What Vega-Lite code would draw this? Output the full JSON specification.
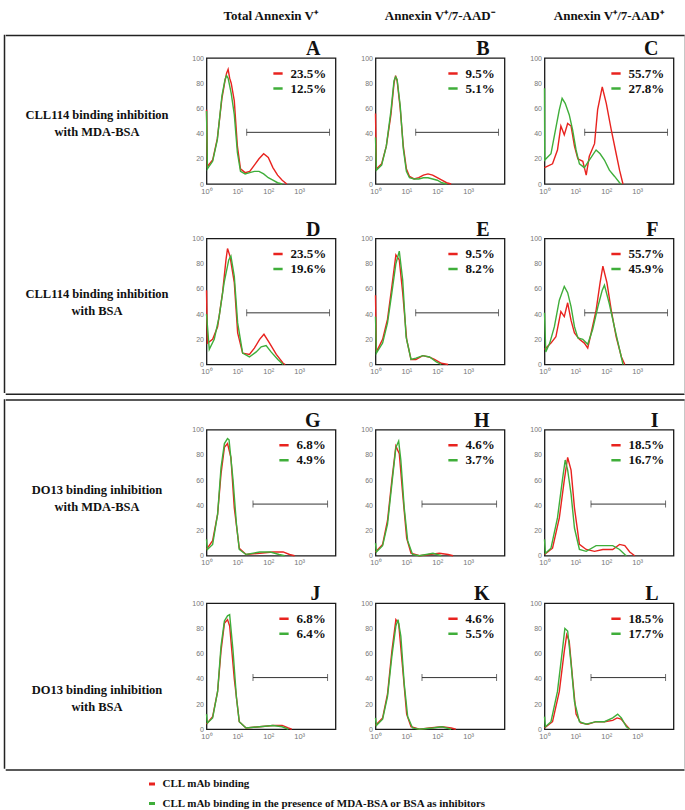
{
"$schema": "https://vega.github.io/schema/vega-lite/v6.json",
"padding": {"left": 1.5, "top": 1, "right": 0, "bottom": 0},
"datasets": {
"gate": [{"g":1,"x":20,"y":41},{"g":1,"x":9600,"y":41},{"g":2,"x":32,"y":41},{"g":2,"x":8300,"y":41}],
"h": [
{"p":"A","s":"r","x":1,"y":59},{"p":"A","s":"r","x":1.07,"y":14},{"p":"A","s":"r","x":1.58,"y":19},{"p":"A","s":"r","x":2.24,"y":36},{"p":"A","s":"r","x":3.16,"y":68},{"p":"A","s":"r","x":3.98,"y":82},{"p":"A","s":"r","x":4.47,"y":88},{"p":"A","s":"r","x":5.01,"y":91},{"p":"A","s":"r","x":5.62,"y":84},{"p":"A","s":"r","x":6.31,"y":80},{"p":"A","s":"r","x":7.94,"y":66},{"p":"A","s":"r","x":10,"y":30},{"p":"A","s":"r","x":12.6,"y":12},{"p":"A","s":"r","x":17.8,"y":9},{"p":"A","s":"r","x":25.1,"y":10},{"p":"A","s":"r","x":35.5,"y":15},{"p":"A","s":"r","x":50.1,"y":20},{"p":"A","s":"r","x":70.8,"y":24},{"p":"A","s":"r","x":100,"y":21},{"p":"A","s":"r","x":141,"y":13},{"p":"A","s":"r","x":200,"y":7},{"p":"A","s":"r","x":282,"y":3},{"p":"A","s":"r","x":398,"y":0},
{"p":"A","s":"g","x":1,"y":58},{"p":"A","s":"g","x":1.07,"y":12},{"p":"A","s":"g","x":1.58,"y":18},{"p":"A","s":"g","x":2.24,"y":35},{"p":"A","s":"g","x":3.16,"y":70},{"p":"A","s":"g","x":3.98,"y":83},{"p":"A","s":"g","x":4.47,"y":86},{"p":"A","s":"g","x":5.01,"y":84},{"p":"A","s":"g","x":6.31,"y":72},{"p":"A","s":"g","x":7.94,"y":55},{"p":"A","s":"g","x":10,"y":25},{"p":"A","s":"g","x":12.6,"y":10},{"p":"A","s":"g","x":17.8,"y":8},{"p":"A","s":"g","x":25.1,"y":9},{"p":"A","s":"g","x":35.5,"y":10},{"p":"A","s":"g","x":50.1,"y":10},{"p":"A","s":"g","x":70.8,"y":8},{"p":"A","s":"g","x":100,"y":5},{"p":"A","s":"g","x":141,"y":3},{"p":"A","s":"g","x":200,"y":1},{"p":"A","s":"g","x":282,"y":0},
{"p":"B","s":"r","x":1,"y":56},{"p":"B","s":"r","x":1.07,"y":12},{"p":"B","s":"r","x":1.58,"y":16},{"p":"B","s":"r","x":2.24,"y":30},{"p":"B","s":"r","x":3.16,"y":55},{"p":"B","s":"r","x":3.98,"y":80},{"p":"B","s":"r","x":4.47,"y":86},{"p":"B","s":"r","x":5.01,"y":82},{"p":"B","s":"r","x":6.31,"y":60},{"p":"B","s":"r","x":7.94,"y":30},{"p":"B","s":"r","x":10,"y":12},{"p":"B","s":"r","x":12.6,"y":6},{"p":"B","s":"r","x":17.8,"y":4},{"p":"B","s":"r","x":25.1,"y":5},{"p":"B","s":"r","x":35.5,"y":7},{"p":"B","s":"r","x":50.1,"y":8},{"p":"B","s":"r","x":70.8,"y":7},{"p":"B","s":"r","x":100,"y":5},{"p":"B","s":"r","x":141,"y":3},{"p":"B","s":"r","x":200,"y":1},{"p":"B","s":"r","x":282,"y":0},
{"p":"B","s":"g","x":1,"y":37},{"p":"B","s":"g","x":1.07,"y":11},{"p":"B","s":"g","x":1.58,"y":15},{"p":"B","s":"g","x":2.24,"y":30},{"p":"B","s":"g","x":3.16,"y":58},{"p":"B","s":"g","x":3.98,"y":82},{"p":"B","s":"g","x":4.47,"y":85},{"p":"B","s":"g","x":5.01,"y":83},{"p":"B","s":"g","x":6.31,"y":62},{"p":"B","s":"g","x":7.94,"y":28},{"p":"B","s":"g","x":10,"y":10},{"p":"B","s":"g","x":12.6,"y":5},{"p":"B","s":"g","x":17.8,"y":4},{"p":"B","s":"g","x":25.1,"y":4},{"p":"B","s":"g","x":35.5,"y":5},{"p":"B","s":"g","x":50.1,"y":5},{"p":"B","s":"g","x":70.8,"y":4},{"p":"B","s":"g","x":100,"y":3},{"p":"B","s":"g","x":141,"y":1},{"p":"B","s":"g","x":200,"y":0},
{"p":"C","s":"r","x":1,"y":13},{"p":"C","s":"r","x":1.82,"y":16},{"p":"C","s":"r","x":2.63,"y":27},{"p":"C","s":"r","x":3.39,"y":46},{"p":"C","s":"r","x":4.37,"y":39},{"p":"C","s":"r","x":5.62,"y":48},{"p":"C","s":"r","x":7.24,"y":46},{"p":"C","s":"r","x":9.33,"y":30},{"p":"C","s":"r","x":12,"y":20},{"p":"C","s":"r","x":17.4,"y":18},{"p":"C","s":"r","x":22.4,"y":7},{"p":"C","s":"r","x":28.2,"y":22},{"p":"C","s":"r","x":41.7,"y":32},{"p":"C","s":"r","x":52.5,"y":59},{"p":"C","s":"r","x":74.1,"y":77},{"p":"C","s":"r","x":100,"y":64},{"p":"C","s":"r","x":145,"y":43},{"p":"C","s":"r","x":209,"y":24},{"p":"C","s":"r","x":269,"y":11},{"p":"C","s":"r","x":347,"y":0},
{"p":"C","s":"g","x":1,"y":76},{"p":"C","s":"g","x":1.02,"y":19},{"p":"C","s":"g","x":1.62,"y":24},{"p":"C","s":"g","x":2.04,"y":37},{"p":"C","s":"g","x":3.02,"y":59},{"p":"C","s":"g","x":3.72,"y":68},{"p":"C","s":"g","x":4.68,"y":64},{"p":"C","s":"g","x":6.31,"y":55},{"p":"C","s":"g","x":8.13,"y":43},{"p":"C","s":"g","x":10.5,"y":27},{"p":"C","s":"g","x":13.5,"y":16},{"p":"C","s":"g","x":19.5,"y":13},{"p":"C","s":"g","x":28.2,"y":19},{"p":"C","s":"g","x":46.8,"y":27},{"p":"C","s":"g","x":63.1,"y":24},{"p":"C","s":"g","x":87.1,"y":19},{"p":"C","s":"g","x":126,"y":11},{"p":"C","s":"g","x":186,"y":6},{"p":"C","s":"g","x":269,"y":1},{"p":"C","s":"g","x":300,"y":0},
{"p":"D","s":"r","x":1,"y":59},{"p":"D","s":"r","x":1.07,"y":17},{"p":"D","s":"r","x":1.58,"y":20},{"p":"D","s":"r","x":2.29,"y":30},{"p":"D","s":"r","x":3.31,"y":57},{"p":"D","s":"r","x":4.27,"y":83},{"p":"D","s":"r","x":4.79,"y":92},{"p":"D","s":"r","x":5.75,"y":86},{"p":"D","s":"r","x":7.94,"y":65},{"p":"D","s":"r","x":10.2,"y":25},{"p":"D","s":"r","x":14.8,"y":9},{"p":"D","s":"r","x":24.5,"y":8},{"p":"D","s":"r","x":35.5,"y":13},{"p":"D","s":"r","x":52.5,"y":20},{"p":"D","s":"r","x":72.4,"y":24},{"p":"D","s":"r","x":110,"y":17},{"p":"D","s":"r","x":182,"y":8},{"p":"D","s":"r","x":302,"y":1},{"p":"D","s":"r","x":355,"y":0},
{"p":"D","s":"g","x":1,"y":40},{"p":"D","s":"g","x":1.23,"y":12},{"p":"D","s":"g","x":1.78,"y":20},{"p":"D","s":"g","x":2.57,"y":38},{"p":"D","s":"g","x":3.72,"y":65},{"p":"D","s":"g","x":5.25,"y":83},{"p":"D","s":"g","x":6.17,"y":86},{"p":"D","s":"g","x":7.94,"y":70},{"p":"D","s":"g","x":10.2,"y":33},{"p":"D","s":"g","x":14.8,"y":9},{"p":"D","s":"g","x":24.5,"y":6},{"p":"D","s":"g","x":40.7,"y":10},{"p":"D","s":"g","x":58.9,"y":14},{"p":"D","s":"g","x":85.1,"y":15},{"p":"D","s":"g","x":123,"y":10},{"p":"D","s":"g","x":204,"y":4},{"p":"D","s":"g","x":302,"y":0},
{"p":"E","s":"r","x":1,"y":55},{"p":"E","s":"r","x":1.07,"y":10},{"p":"E","s":"r","x":1.7,"y":20},{"p":"E","s":"r","x":2.45,"y":36},{"p":"E","s":"r","x":3.39,"y":62},{"p":"E","s":"r","x":4.57,"y":87},{"p":"E","s":"r","x":5.89,"y":83},{"p":"E","s":"r","x":7.59,"y":57},{"p":"E","s":"r","x":10.2,"y":20},{"p":"E","s":"r","x":14.1,"y":4},{"p":"E","s":"r","x":20.4,"y":4},{"p":"E","s":"r","x":33.9,"y":7},{"p":"E","s":"r","x":53.7,"y":6},{"p":"E","s":"r","x":81.3,"y":4},{"p":"E","s":"r","x":135,"y":1},{"p":"E","s":"r","x":224,"y":0},
{"p":"E","s":"g","x":1,"y":38},{"p":"E","s":"g","x":1.07,"y":9},{"p":"E","s":"g","x":1.7,"y":17},{"p":"E","s":"g","x":2.45,"y":33},{"p":"E","s":"g","x":3.39,"y":57},{"p":"E","s":"g","x":4.57,"y":80},{"p":"E","s":"g","x":5.89,"y":90},{"p":"E","s":"g","x":7.59,"y":67},{"p":"E","s":"g","x":9.77,"y":22},{"p":"E","s":"g","x":14.1,"y":4},{"p":"E","s":"g","x":20.4,"y":5},{"p":"E","s":"g","x":33.9,"y":7},{"p":"E","s":"g","x":56.2,"y":6},{"p":"E","s":"g","x":93.3,"y":2},{"p":"E","s":"g","x":135,"y":0},
{"p":"F","s":"r","x":1,"y":12},{"p":"F","s":"r","x":1.62,"y":17},{"p":"F","s":"r","x":2.34,"y":22},{"p":"F","s":"r","x":3.39,"y":42},{"p":"F","s":"r","x":4.37,"y":38},{"p":"F","s":"r","x":5.62,"y":49},{"p":"F","s":"r","x":7.24,"y":35},{"p":"F","s":"r","x":9.33,"y":25},{"p":"F","s":"r","x":13.5,"y":20},{"p":"F","s":"r","x":19.5,"y":17},{"p":"F","s":"r","x":25.1,"y":13},{"p":"F","s":"r","x":32.4,"y":25},{"p":"F","s":"r","x":46.8,"y":43},{"p":"F","s":"r","x":63.1,"y":65},{"p":"F","s":"r","x":77.6,"y":78},{"p":"F","s":"r","x":105,"y":65},{"p":"F","s":"r","x":145,"y":43},{"p":"F","s":"r","x":209,"y":22},{"p":"F","s":"r","x":309,"y":6},{"p":"F","s":"r","x":398,"y":0},
{"p":"F","s":"g","x":1,"y":41},{"p":"F","s":"g","x":1.1,"y":10},{"p":"F","s":"g","x":1.48,"y":17},{"p":"F","s":"g","x":2.09,"y":30},{"p":"F","s":"g","x":3.02,"y":51},{"p":"F","s":"g","x":4.37,"y":62},{"p":"F","s":"g","x":5.62,"y":57},{"p":"F","s":"g","x":7.24,"y":46},{"p":"F","s":"g","x":9.33,"y":30},{"p":"F","s":"g","x":12,"y":21},{"p":"F","s":"g","x":17.4,"y":20},{"p":"F","s":"g","x":25.1,"y":16},{"p":"F","s":"g","x":36.3,"y":28},{"p":"F","s":"g","x":53.7,"y":46},{"p":"F","s":"g","x":74.1,"y":59},{"p":"F","s":"g","x":87.1,"y":63},{"p":"F","s":"g","x":126,"y":48},{"p":"F","s":"g","x":182,"y":30},{"p":"F","s":"g","x":269,"y":12},{"p":"F","s":"g","x":347,"y":0},
{"p":"G","s":"r","x":1,"y":5},{"p":"G","s":"r","x":1.07,"y":6},{"p":"G","s":"r","x":1.58,"y":12},{"p":"G","s":"r","x":2.29,"y":33},{"p":"G","s":"r","x":2.95,"y":65},{"p":"G","s":"r","x":3.8,"y":86},{"p":"G","s":"r","x":4.79,"y":89},{"p":"G","s":"r","x":6.17,"y":78},{"p":"G","s":"r","x":7.94,"y":38},{"p":"G","s":"r","x":11.5,"y":6},{"p":"G","s":"r","x":19.1,"y":1},{"p":"G","s":"r","x":52.5,"y":2},{"p":"G","s":"r","x":141,"y":3},{"p":"G","s":"r","x":302,"y":3},{"p":"G","s":"r","x":490,"y":1},{"p":"G","s":"r","x":708,"y":0},
{"p":"G","s":"g","x":1,"y":13},{"p":"G","s":"g","x":1.07,"y":5},{"p":"G","s":"g","x":1.58,"y":9},{"p":"G","s":"g","x":2.29,"y":33},{"p":"G","s":"g","x":2.95,"y":70},{"p":"G","s":"g","x":3.8,"y":89},{"p":"G","s":"g","x":4.79,"y":93},{"p":"G","s":"g","x":5.37,"y":92},{"p":"G","s":"g","x":7.24,"y":60},{"p":"G","s":"g","x":9.33,"y":25},{"p":"G","s":"g","x":11.5,"y":5},{"p":"G","s":"g","x":19.1,"y":1},{"p":"G","s":"g","x":52.5,"y":3},{"p":"G","s":"g","x":117,"y":3},{"p":"G","s":"g","x":224,"y":1},{"p":"G","s":"g","x":339,"y":0},
{"p":"H","s":"r","x":1,"y":3},{"p":"H","s":"r","x":1.7,"y":9},{"p":"H","s":"r","x":2.45,"y":28},{"p":"H","s":"r","x":3.39,"y":60},{"p":"H","s":"r","x":4.57,"y":87},{"p":"H","s":"r","x":5.89,"y":81},{"p":"H","s":"r","x":7.59,"y":49},{"p":"H","s":"r","x":10.2,"y":14},{"p":"H","s":"r","x":14.1,"y":2},{"p":"H","s":"r","x":26.3,"y":0},{"p":"H","s":"r","x":56.2,"y":1},{"p":"H","s":"r","x":117,"y":2},{"p":"H","s":"r","x":224,"y":1},{"p":"H","s":"r","x":324,"y":0},
{"p":"H","s":"g","x":1,"y":10},{"p":"H","s":"g","x":1.07,"y":3},{"p":"H","s":"g","x":1.7,"y":8},{"p":"H","s":"g","x":2.45,"y":25},{"p":"H","s":"g","x":3.39,"y":57},{"p":"H","s":"g","x":4.57,"y":86},{"p":"H","s":"g","x":5.62,"y":91},{"p":"H","s":"g","x":6.61,"y":76},{"p":"H","s":"g","x":8.51,"y":38},{"p":"H","s":"g","x":11,"y":12},{"p":"H","s":"g","x":15.8,"y":1},{"p":"H","s":"g","x":26.3,"y":0},{"p":"H","s":"g","x":72.4,"y":2},{"p":"H","s":"g","x":135,"y":0},
{"p":"I","s":"r","x":1,"y":1},{"p":"I","s":"r","x":1.82,"y":6},{"p":"I","s":"r","x":3.02,"y":30},{"p":"I","s":"r","x":4.37,"y":60},{"p":"I","s":"r","x":5.62,"y":78},{"p":"I","s":"r","x":7.24,"y":68},{"p":"I","s":"r","x":9.33,"y":38},{"p":"I","s":"r","x":13.5,"y":9},{"p":"I","s":"r","x":22.4,"y":5},{"p":"I","s":"r","x":41.7,"y":3.5},{"p":"I","s":"r","x":77.6,"y":5},{"p":"I","s":"r","x":162,"y":5},{"p":"I","s":"r","x":269,"y":9},{"p":"I","s":"r","x":398,"y":8},{"p":"I","s":"r","x":575,"y":3},{"p":"I","s":"r","x":832,"y":0},
{"p":"I","s":"g","x":1,"y":13},{"p":"I","s":"g","x":1.07,"y":2},{"p":"I","s":"g","x":1.62,"y":6},{"p":"I","s":"g","x":2.63,"y":30},{"p":"I","s":"g","x":3.89,"y":62},{"p":"I","s":"g","x":4.68,"y":76},{"p":"I","s":"g","x":5.62,"y":68},{"p":"I","s":"g","x":7.24,"y":49},{"p":"I","s":"g","x":9.33,"y":22},{"p":"I","s":"g","x":13.5,"y":5},{"p":"I","s":"g","x":22.4,"y":3.5},{"p":"I","s":"g","x":46.8,"y":8},{"p":"I","s":"g","x":87.1,"y":8},{"p":"I","s":"g","x":162,"y":8},{"p":"I","s":"g","x":269,"y":5},{"p":"I","s":"g","x":398,"y":1},{"p":"I","s":"g","x":447,"y":0},
{"p":"J","s":"r","x":1,"y":4},{"p":"J","s":"r","x":1.07,"y":5},{"p":"J","s":"r","x":1.58,"y":10},{"p":"J","s":"r","x":2.29,"y":30},{"p":"J","s":"r","x":2.95,"y":62},{"p":"J","s":"r","x":3.8,"y":84},{"p":"J","s":"r","x":4.79,"y":87},{"p":"J","s":"r","x":5.62,"y":82},{"p":"J","s":"r","x":7.94,"y":40},{"p":"J","s":"r","x":11.5,"y":6},{"p":"J","s":"r","x":19.1,"y":1},{"p":"J","s":"r","x":52.5,"y":2},{"p":"J","s":"r","x":141,"y":3},{"p":"J","s":"r","x":282,"y":3},{"p":"J","s":"r","x":447,"y":1},{"p":"J","s":"r","x":575,"y":0},
{"p":"J","s":"g","x":1,"y":12},{"p":"J","s":"g","x":1.07,"y":5},{"p":"J","s":"g","x":1.58,"y":9},{"p":"J","s":"g","x":2.29,"y":30},{"p":"J","s":"g","x":2.95,"y":66},{"p":"J","s":"g","x":3.8,"y":86},{"p":"J","s":"g","x":4.79,"y":90},{"p":"J","s":"g","x":5.62,"y":91},{"p":"J","s":"g","x":7.24,"y":62},{"p":"J","s":"g","x":9.33,"y":25},{"p":"J","s":"g","x":11.5,"y":6},{"p":"J","s":"g","x":19.1,"y":1},{"p":"J","s":"g","x":52.5,"y":2},{"p":"J","s":"g","x":141,"y":3},{"p":"J","s":"g","x":282,"y":2},{"p":"J","s":"g","x":447,"y":0},
{"p":"K","s":"r","x":1,"y":3},{"p":"K","s":"r","x":1.7,"y":9},{"p":"K","s":"r","x":2.45,"y":28},{"p":"K","s":"r","x":3.39,"y":62},{"p":"K","s":"r","x":4.57,"y":87},{"p":"K","s":"r","x":5.62,"y":84},{"p":"K","s":"r","x":7.59,"y":48},{"p":"K","s":"r","x":10.2,"y":12},{"p":"K","s":"r","x":14.1,"y":2},{"p":"K","s":"r","x":26.3,"y":0},{"p":"K","s":"r","x":56.2,"y":1},{"p":"K","s":"r","x":141,"y":2},{"p":"K","s":"r","x":282,"y":1},{"p":"K","s":"r","x":398,"y":0},
{"p":"K","s":"g","x":1,"y":9},{"p":"K","s":"g","x":1.07,"y":3},{"p":"K","s":"g","x":1.7,"y":8},{"p":"K","s":"g","x":2.45,"y":26},{"p":"K","s":"g","x":3.39,"y":58},{"p":"K","s":"g","x":4.57,"y":82},{"p":"K","s":"g","x":5.37,"y":87},{"p":"K","s":"g","x":6.61,"y":74},{"p":"K","s":"g","x":8.51,"y":36},{"p":"K","s":"g","x":11,"y":10},{"p":"K","s":"g","x":15.8,"y":1},{"p":"K","s":"g","x":26.3,"y":0},{"p":"K","s":"g","x":72.4,"y":1},{"p":"K","s":"g","x":141,"y":2},{"p":"K","s":"g","x":282,"y":0},
{"p":"L","s":"r","x":1,"y":1},{"p":"L","s":"r","x":1.82,"y":6},{"p":"L","s":"r","x":3.02,"y":30},{"p":"L","s":"r","x":4.37,"y":62},{"p":"L","s":"r","x":5.25,"y":75},{"p":"L","s":"r","x":6.31,"y":70},{"p":"L","s":"r","x":8.13,"y":40},{"p":"L","s":"r","x":10.5,"y":12},{"p":"L","s":"r","x":14.8,"y":5},{"p":"L","s":"r","x":25.1,"y":4},{"p":"L","s":"r","x":46.8,"y":6},{"p":"L","s":"r","x":87.1,"y":6},{"p":"L","s":"r","x":162,"y":7},{"p":"L","s":"r","x":224,"y":9},{"p":"L","s":"r","x":302,"y":8},{"p":"L","s":"r","x":447,"y":3},{"p":"L","s":"r","x":575,"y":0},
{"p":"L","s":"g","x":1,"y":10},{"p":"L","s":"g","x":1.07,"y":2},{"p":"L","s":"g","x":1.62,"y":6},{"p":"L","s":"g","x":2.63,"y":30},{"p":"L","s":"g","x":3.89,"y":65},{"p":"L","s":"g","x":4.57,"y":80},{"p":"L","s":"g","x":5.62,"y":78},{"p":"L","s":"g","x":7.24,"y":52},{"p":"L","s":"g","x":9.33,"y":22},{"p":"L","s":"g","x":13.5,"y":6},{"p":"L","s":"g","x":22.4,"y":4},{"p":"L","s":"g","x":46.8,"y":6},{"p":"L","s":"g","x":87.1,"y":6},{"p":"L","s":"g","x":162,"y":9},{"p":"L","s":"g","x":234,"y":12},{"p":"L","s":"g","x":309,"y":9},{"p":"L","s":"g","x":447,"y":2},{"p":"L","s":"g","x":575,"y":0}
]
},
"spacing": 3.5,
"resolve": {"scale": {"color": "independent"}, "legend": {"color": "independent"}},
"vconcat": [
{"hconcat": [
  {"width": 184, "height": 30, "view": {"stroke": null}, "data": {"values": []}, "mark": "point"},
  {"hconcat": [
    {"width": 129, "height": 30, "view": {"stroke": null}, "data": {"values": [{"t": "Total Annexin V⁺"}]}, "mark": {"type": "text", "font": "Liberation Serif", "fontWeight": "bold", "fontSize": 13, "color": "#111"}, "encoding": {"text": {"field": "t", "type": "nominal"}}},
    {"width": 129, "height": 30, "view": {"stroke": null}, "data": {"values": [{"t": "Annexin V⁺/7-AAD⁻"}]}, "mark": {"type": "text", "font": "Liberation Serif", "fontWeight": "bold", "fontSize": 13, "color": "#111"}, "encoding": {"text": {"field": "t", "type": "nominal"}}},
    {"width": 129, "height": 30, "view": {"stroke": null}, "data": {"values": [{"t": "Annexin V⁺/7-AAD⁺"}]}, "mark": {"type": "text", "font": "Liberation Serif", "fontWeight": "bold", "fontSize": 13, "color": "#111"}, "encoding": {"text": {"field": "t", "type": "nominal"}}}
  ], "spacing": 40, "bounds": "flush"}
 ], "spacing": 17.75},
{"hconcat": [
  {"width": 0.01, "height": 356.75, "view": {"stroke": "#222", "strokeWidth": 1.5}, "data": {"values": []}, "mark": "point"},
  {"vconcat": [
    {"width": 677.25, "height": 0.01, "view": {"stroke": "#222", "strokeWidth": 1.5}, "data": {"values": []}, "mark": "point"},
    {"vconcat": [
      {"vconcat": [
        {"hconcat": [
          {"width": 181, "height": 150, "view": {"stroke": null}, "data": {"values": [{"t": "CLL114 binding inhibition\nwith MDA-BSA"}]}, "mark": {"type": "text", "font": "Liberation Serif", "fontWeight": "bold", "fontSize": 12.5, "lineBreak": "\n", "lineHeight": 17, "color": "#111", "dy": -18.5}, "encoding": {"text": {"field": "t", "type": "nominal"}}},
          {"hconcat": [
            {"width": 129, "height": 126, "title": "A",
             "encoding": {"x": {"field": "x", "type": "quantitative", "scale": {"type": "log", "domain": [1, 15000], "nice": false}, "axis": {"values": [1, 10, 100, 1000], "labelExpr": "datum.value==1?'10⁰':datum.value==10?'10¹':datum.value==100?'10²':'10³'", "title": null}}, "y": {"field": "y", "type": "quantitative", "scale": {"domain": [0, 100], "nice": false}, "axis": {"values": [0, 20, 40, 60, 80, 100], "title": null}}},
             "layer": [
              {"data": {"name": "gate"}, "transform": [{"filter": "datum.g==1"}], "mark": {"type": "line", "color": "#333", "strokeWidth": 1}, "encoding": {}},
              {"data": {"name": "gate"}, "transform": [{"filter": "datum.g==1"}], "mark": {"type": "tick", "orient": "vertical", "color": "#333", "size": 7, "thickness": 1}, "encoding": {}},
              {"data": {"name": "h"}, "transform": [{"filter": "datum.p=='A'"}], "mark": {"type": "line", "strokeWidth": 1.4}, "encoding": {"color": {"field": "s", "type": "nominal", "title": null, "scale": {"domain": ["r", "g"], "range": ["#e8231f", "#3fae3a"]}, "legend": {"labelExpr": "datum.value=='r'?'23.5%':'12.5%'"}}}}
             ]},
            {"width": 129, "height": 126, "title": "B",
             "encoding": {"x": {"field": "x", "type": "quantitative", "scale": {"type": "log", "domain": [1, 15000], "nice": false}, "axis": {"values": [1, 10, 100, 1000], "labelExpr": "datum.value==1?'10⁰':datum.value==10?'10¹':datum.value==100?'10²':'10³'", "title": null}}, "y": {"field": "y", "type": "quantitative", "scale": {"domain": [0, 100], "nice": false}, "axis": {"values": [0, 20, 40, 60, 80, 100], "title": null}}},
             "layer": [
              {"data": {"name": "gate"}, "transform": [{"filter": "datum.g==1"}], "mark": {"type": "line", "color": "#333", "strokeWidth": 1}, "encoding": {}},
              {"data": {"name": "gate"}, "transform": [{"filter": "datum.g==1"}], "mark": {"type": "tick", "orient": "vertical", "color": "#333", "size": 7, "thickness": 1}, "encoding": {}},
              {"data": {"name": "h"}, "transform": [{"filter": "datum.p=='B'"}], "mark": {"type": "line", "strokeWidth": 1.4}, "encoding": {"color": {"field": "s", "type": "nominal", "title": null, "scale": {"domain": ["r", "g"], "range": ["#e8231f", "#3fae3a"]}, "legend": {"labelExpr": "datum.value=='r'?'9.5%':'5.1%'"}}}}
             ]},
            {"width": 129, "height": 126, "title": "C",
             "encoding": {"x": {"field": "x", "type": "quantitative", "scale": {"type": "log", "domain": [1, 15000], "nice": false}, "axis": {"values": [1, 10, 100, 1000], "labelExpr": "datum.value==1?'10⁰':datum.value==10?'10¹':datum.value==100?'10²':'10³'", "title": null}}, "y": {"field": "y", "type": "quantitative", "scale": {"domain": [0, 100], "nice": false}, "axis": {"values": [0, 20, 40, 60, 80, 100], "title": null}}},
             "layer": [
              {"data": {"name": "gate"}, "transform": [{"filter": "datum.g==1"}], "mark": {"type": "line", "color": "#333", "strokeWidth": 1}, "encoding": {}},
              {"data": {"name": "gate"}, "transform": [{"filter": "datum.g==1"}], "mark": {"type": "tick", "orient": "vertical", "color": "#333", "size": 7, "thickness": 1}, "encoding": {}},
              {"data": {"name": "h"}, "transform": [{"filter": "datum.p=='C'"}], "mark": {"type": "line", "strokeWidth": 1.4}, "encoding": {"color": {"field": "s", "type": "nominal", "title": null, "scale": {"domain": ["r", "g"], "range": ["#e8231f", "#3fae3a"]}, "legend": {"labelExpr": "datum.value=='r'?'55.7%':'27.8%'"}}}}
             ]}
          ], "spacing": 40, "bounds": "flush", "resolve": {"scale": {"color": "independent"}, "legend": {"color": "independent"}}}
        ], "spacing": 3, "resolve": {"scale": {"color": "independent"}, "legend": {"color": "independent"}}},
        {"hconcat": [
          {"width": 181, "height": 150, "view": {"stroke": null}, "data": {"values": [{"t": "CLL114 binding inhibition\nwith BSA"}]}, "mark": {"type": "text", "font": "Liberation Serif", "fontWeight": "bold", "fontSize": 12.5, "lineBreak": "\n", "lineHeight": 17, "color": "#111", "dy": -20}, "encoding": {"text": {"field": "t", "type": "nominal"}}},
          {"hconcat": [
            {"width": 129, "height": 126, "title": "D",
             "encoding": {"x": {"field": "x", "type": "quantitative", "scale": {"type": "log", "domain": [1, 15000], "nice": false}, "axis": {"values": [1, 10, 100, 1000], "labelExpr": "datum.value==1?'10⁰':datum.value==10?'10¹':datum.value==100?'10²':'10³'", "title": null}}, "y": {"field": "y", "type": "quantitative", "scale": {"domain": [0, 100], "nice": false}, "axis": {"values": [0, 20, 40, 60, 80, 100], "title": null}}},
             "layer": [
              {"data": {"name": "gate"}, "transform": [{"filter": "datum.g==1"}], "mark": {"type": "line", "color": "#333", "strokeWidth": 1}, "encoding": {}},
              {"data": {"name": "gate"}, "transform": [{"filter": "datum.g==1"}], "mark": {"type": "tick", "orient": "vertical", "color": "#333", "size": 7, "thickness": 1}, "encoding": {}},
              {"data": {"name": "h"}, "transform": [{"filter": "datum.p=='D'"}], "mark": {"type": "line", "strokeWidth": 1.4}, "encoding": {"color": {"field": "s", "type": "nominal", "title": null, "scale": {"domain": ["r", "g"], "range": ["#e8231f", "#3fae3a"]}, "legend": {"labelExpr": "datum.value=='r'?'23.5%':'19.6%'"}}}}
             ]},
            {"width": 129, "height": 126, "title": "E",
             "encoding": {"x": {"field": "x", "type": "quantitative", "scale": {"type": "log", "domain": [1, 15000], "nice": false}, "axis": {"values": [1, 10, 100, 1000], "labelExpr": "datum.value==1?'10⁰':datum.value==10?'10¹':datum.value==100?'10²':'10³'", "title": null}}, "y": {"field": "y", "type": "quantitative", "scale": {"domain": [0, 100], "nice": false}, "axis": {"values": [0, 20, 40, 60, 80, 100], "title": null}}},
             "layer": [
              {"data": {"name": "gate"}, "transform": [{"filter": "datum.g==1"}], "mark": {"type": "line", "color": "#333", "strokeWidth": 1}, "encoding": {}},
              {"data": {"name": "gate"}, "transform": [{"filter": "datum.g==1"}], "mark": {"type": "tick", "orient": "vertical", "color": "#333", "size": 7, "thickness": 1}, "encoding": {}},
              {"data": {"name": "h"}, "transform": [{"filter": "datum.p=='E'"}], "mark": {"type": "line", "strokeWidth": 1.4}, "encoding": {"color": {"field": "s", "type": "nominal", "title": null, "scale": {"domain": ["r", "g"], "range": ["#e8231f", "#3fae3a"]}, "legend": {"labelExpr": "datum.value=='r'?'9.5%':'8.2%'"}}}}
             ]},
            {"width": 129, "height": 126, "title": "F",
             "encoding": {"x": {"field": "x", "type": "quantitative", "scale": {"type": "log", "domain": [1, 15000], "nice": false}, "axis": {"values": [1, 10, 100, 1000], "labelExpr": "datum.value==1?'10⁰':datum.value==10?'10¹':datum.value==100?'10²':'10³'", "title": null}}, "y": {"field": "y", "type": "quantitative", "scale": {"domain": [0, 100], "nice": false}, "axis": {"values": [0, 20, 40, 60, 80, 100], "title": null}}},
             "layer": [
              {"data": {"name": "gate"}, "transform": [{"filter": "datum.g==1"}], "mark": {"type": "line", "color": "#333", "strokeWidth": 1}, "encoding": {}},
              {"data": {"name": "gate"}, "transform": [{"filter": "datum.g==1"}], "mark": {"type": "tick", "orient": "vertical", "color": "#333", "size": 7, "thickness": 1}, "encoding": {}},
              {"data": {"name": "h"}, "transform": [{"filter": "datum.p=='F'"}], "mark": {"type": "line", "strokeWidth": 1.4}, "encoding": {"color": {"field": "s", "type": "nominal", "title": null, "scale": {"domain": ["r", "g"], "range": ["#e8231f", "#3fae3a"]}, "legend": {"labelExpr": "datum.value=='r'?'55.7%':'45.9%'"}}}}
             ]}
          ], "spacing": 40, "bounds": "flush", "resolve": {"scale": {"color": "independent"}, "legend": {"color": "independent"}}}
        ], "spacing": 3, "resolve": {"scale": {"color": "independent"}, "legend": {"color": "independent"}}}
      ], "spacing": 10.5, "resolve": {"scale": {"color": "independent"}, "legend": {"color": "independent"}}},
      {"width": 677.25, "height": 0.01, "view": {"stroke": "#222", "strokeWidth": 1.5}, "data": {"values": []}, "mark": "point"}
    ], "spacing": 4.25, "resolve": {"scale": {"color": "independent"}, "legend": {"color": "independent"}}}
  ], "spacing": 1.5, "resolve": {"scale": {"color": "independent"}, "legend": {"color": "independent"}}},
  {"width": 0.01, "height": 356.75, "view": {"stroke": "#222", "strokeWidth": 1.5}, "data": {"values": []}, "mark": "point"}
 ], "spacing": 0, "resolve": {"scale": {"color": "independent"}, "legend": {"color": "independent"}}},
{"hconcat": [
  {"width": 0.01, "height": 368, "view": {"stroke": "#222", "strokeWidth": 1.5}, "data": {"values": []}, "mark": "point"},
  {"vconcat": [
    {"width": 677.25, "height": 0.01, "view": {"stroke": "#222", "strokeWidth": 1.5}, "data": {"values": []}, "mark": "point"},
    {"vconcat": [
      {"vconcat": [
        {"hconcat": [
          {"width": 181, "height": 150, "view": {"stroke": null}, "data": {"values": [{"t": "DO13 binding inhibition\nwith MDA-BSA"}]}, "mark": {"type": "text", "font": "Liberation Serif", "fontWeight": "bold", "fontSize": 12.5, "lineBreak": "\n", "lineHeight": 17, "color": "#111", "dy": -15}, "encoding": {"text": {"field": "t", "type": "nominal"}}},
          {"hconcat": [
            {"width": 129, "height": 126, "title": "G",
             "encoding": {"x": {"field": "x", "type": "quantitative", "scale": {"type": "log", "domain": [1, 15000], "nice": false}, "axis": {"values": [1, 10, 100, 1000], "labelExpr": "datum.value==1?'10⁰':datum.value==10?'10¹':datum.value==100?'10²':'10³'", "title": null}}, "y": {"field": "y", "type": "quantitative", "scale": {"domain": [0, 100], "nice": false}, "axis": {"values": [0, 20, 40, 60, 80, 100], "title": null}}},
             "layer": [
              {"data": {"name": "gate"}, "transform": [{"filter": "datum.g==2"}], "mark": {"type": "line", "color": "#333", "strokeWidth": 1}, "encoding": {}},
              {"data": {"name": "gate"}, "transform": [{"filter": "datum.g==2"}], "mark": {"type": "tick", "orient": "vertical", "color": "#333", "size": 7, "thickness": 1}, "encoding": {}},
              {"data": {"name": "h"}, "transform": [{"filter": "datum.p=='G'"}], "mark": {"type": "line", "strokeWidth": 1.4}, "encoding": {"color": {"field": "s", "type": "nominal", "title": null, "scale": {"domain": ["r", "g"], "range": ["#e8231f", "#3fae3a"]}, "legend": {"labelExpr": "datum.value=='r'?'\u20076.8%':'\u20074.9%'"}}}}
             ]},
            {"width": 129, "height": 126, "title": "H",
             "encoding": {"x": {"field": "x", "type": "quantitative", "scale": {"type": "log", "domain": [1, 15000], "nice": false}, "axis": {"values": [1, 10, 100, 1000], "labelExpr": "datum.value==1?'10⁰':datum.value==10?'10¹':datum.value==100?'10²':'10³'", "title": null}}, "y": {"field": "y", "type": "quantitative", "scale": {"domain": [0, 100], "nice": false}, "axis": {"values": [0, 20, 40, 60, 80, 100], "title": null}}},
             "layer": [
              {"data": {"name": "gate"}, "transform": [{"filter": "datum.g==2"}], "mark": {"type": "line", "color": "#333", "strokeWidth": 1}, "encoding": {}},
              {"data": {"name": "gate"}, "transform": [{"filter": "datum.g==2"}], "mark": {"type": "tick", "orient": "vertical", "color": "#333", "size": 7, "thickness": 1}, "encoding": {}},
              {"data": {"name": "h"}, "transform": [{"filter": "datum.p=='H'"}], "mark": {"type": "line", "strokeWidth": 1.4}, "encoding": {"color": {"field": "s", "type": "nominal", "title": null, "scale": {"domain": ["r", "g"], "range": ["#e8231f", "#3fae3a"]}, "legend": {"labelExpr": "datum.value=='r'?'\u20074.6%':'\u20073.7%'"}}}}
             ]},
            {"width": 129, "height": 126, "title": "I",
             "encoding": {"x": {"field": "x", "type": "quantitative", "scale": {"type": "log", "domain": [1, 15000], "nice": false}, "axis": {"values": [1, 10, 100, 1000], "labelExpr": "datum.value==1?'10⁰':datum.value==10?'10¹':datum.value==100?'10²':'10³'", "title": null}}, "y": {"field": "y", "type": "quantitative", "scale": {"domain": [0, 100], "nice": false}, "axis": {"values": [0, 20, 40, 60, 80, 100], "title": null}}},
             "layer": [
              {"data": {"name": "gate"}, "transform": [{"filter": "datum.g==2"}], "mark": {"type": "line", "color": "#333", "strokeWidth": 1}, "encoding": {}},
              {"data": {"name": "gate"}, "transform": [{"filter": "datum.g==2"}], "mark": {"type": "tick", "orient": "vertical", "color": "#333", "size": 7, "thickness": 1}, "encoding": {}},
              {"data": {"name": "h"}, "transform": [{"filter": "datum.p=='I'"}], "mark": {"type": "line", "strokeWidth": 1.4}, "encoding": {"color": {"field": "s", "type": "nominal", "title": null, "scale": {"domain": ["r", "g"], "range": ["#e8231f", "#3fae3a"]}, "legend": {"labelExpr": "datum.value=='r'?'18.5%':'16.7%'"}}}}
             ]}
          ], "spacing": 40, "bounds": "flush", "resolve": {"scale": {"color": "independent"}, "legend": {"color": "independent"}}}
        ], "spacing": 3, "resolve": {"scale": {"color": "independent"}, "legend": {"color": "independent"}}},
        {"hconcat": [
          {"width": 181, "height": 150, "view": {"stroke": null}, "data": {"values": [{"t": "DO13 binding inhibition\nwith BSA"}]}, "mark": {"type": "text", "font": "Liberation Serif", "fontWeight": "bold", "fontSize": 12.5, "lineBreak": "\n", "lineHeight": 17, "color": "#111", "dy": 12}, "encoding": {"text": {"field": "t", "type": "nominal"}}},
          {"hconcat": [
            {"width": 129, "height": 126, "title": "J",
             "encoding": {"x": {"field": "x", "type": "quantitative", "scale": {"type": "log", "domain": [1, 15000], "nice": false}, "axis": {"values": [1, 10, 100, 1000], "labelExpr": "datum.value==1?'10⁰':datum.value==10?'10¹':datum.value==100?'10²':'10³'", "title": null}}, "y": {"field": "y", "type": "quantitative", "scale": {"domain": [0, 100], "nice": false}, "axis": {"values": [0, 20, 40, 60, 80, 100], "title": null}}},
             "layer": [
              {"data": {"name": "gate"}, "transform": [{"filter": "datum.g==2"}], "mark": {"type": "line", "color": "#333", "strokeWidth": 1}, "encoding": {}},
              {"data": {"name": "gate"}, "transform": [{"filter": "datum.g==2"}], "mark": {"type": "tick", "orient": "vertical", "color": "#333", "size": 7, "thickness": 1}, "encoding": {}},
              {"data": {"name": "h"}, "transform": [{"filter": "datum.p=='J'"}], "mark": {"type": "line", "strokeWidth": 1.4}, "encoding": {"color": {"field": "s", "type": "nominal", "title": null, "scale": {"domain": ["r", "g"], "range": ["#e8231f", "#3fae3a"]}, "legend": {"labelExpr": "datum.value=='r'?'\u20076.8%':'\u20076.4%'"}}}}
             ]},
            {"width": 129, "height": 126, "title": "K",
             "encoding": {"x": {"field": "x", "type": "quantitative", "scale": {"type": "log", "domain": [1, 15000], "nice": false}, "axis": {"values": [1, 10, 100, 1000], "labelExpr": "datum.value==1?'10⁰':datum.value==10?'10¹':datum.value==100?'10²':'10³'", "title": null}}, "y": {"field": "y", "type": "quantitative", "scale": {"domain": [0, 100], "nice": false}, "axis": {"values": [0, 20, 40, 60, 80, 100], "title": null}}},
             "layer": [
              {"data": {"name": "gate"}, "transform": [{"filter": "datum.g==2"}], "mark": {"type": "line", "color": "#333", "strokeWidth": 1}, "encoding": {}},
              {"data": {"name": "gate"}, "transform": [{"filter": "datum.g==2"}], "mark": {"type": "tick", "orient": "vertical", "color": "#333", "size": 7, "thickness": 1}, "encoding": {}},
              {"data": {"name": "h"}, "transform": [{"filter": "datum.p=='K'"}], "mark": {"type": "line", "strokeWidth": 1.4}, "encoding": {"color": {"field": "s", "type": "nominal", "title": null, "scale": {"domain": ["r", "g"], "range": ["#e8231f", "#3fae3a"]}, "legend": {"labelExpr": "datum.value=='r'?'\u20074.6%':'\u20075.5%'"}}}}
             ]},
            {"width": 129, "height": 126, "title": "L",
             "encoding": {"x": {"field": "x", "type": "quantitative", "scale": {"type": "log", "domain": [1, 15000], "nice": false}, "axis": {"values": [1, 10, 100, 1000], "labelExpr": "datum.value==1?'10⁰':datum.value==10?'10¹':datum.value==100?'10²':'10³'", "title": null}}, "y": {"field": "y", "type": "quantitative", "scale": {"domain": [0, 100], "nice": false}, "axis": {"values": [0, 20, 40, 60, 80, 100], "title": null}}},
             "layer": [
              {"data": {"name": "gate"}, "transform": [{"filter": "datum.g==2"}], "mark": {"type": "line", "color": "#333", "strokeWidth": 1}, "encoding": {}},
              {"data": {"name": "gate"}, "transform": [{"filter": "datum.g==2"}], "mark": {"type": "tick", "orient": "vertical", "color": "#333", "size": 7, "thickness": 1}, "encoding": {}},
              {"data": {"name": "h"}, "transform": [{"filter": "datum.p=='L'"}], "mark": {"type": "line", "strokeWidth": 1.4}, "encoding": {"color": {"field": "s", "type": "nominal", "title": null, "scale": {"domain": ["r", "g"], "range": ["#e8231f", "#3fae3a"]}, "legend": {"labelExpr": "datum.value=='r'?'18.5%':'17.7%'"}}}}
             ]}
          ], "spacing": 40, "bounds": "flush", "resolve": {"scale": {"color": "independent"}, "legend": {"color": "independent"}}}
        ], "spacing": 3, "resolve": {"scale": {"color": "independent"}, "legend": {"color": "independent"}}}
      ], "spacing": 3.5, "resolve": {"scale": {"color": "independent"}, "legend": {"color": "independent"}}},
      {"width": 677.25, "height": 0.01, "view": {"stroke": "#222", "strokeWidth": 1.5}, "data": {"values": []}, "mark": "point"}
    ], "spacing": 15.25, "resolve": {"scale": {"color": "independent"}, "legend": {"color": "independent"}}}
  ], "spacing": 8.75, "resolve": {"scale": {"color": "independent"}, "legend": {"color": "independent"}}},
  {"width": 0.01, "height": 368, "view": {"stroke": "#222", "strokeWidth": 1.5}, "data": {"values": []}, "mark": "point"}
 ], "spacing": 0, "resolve": {"scale": {"color": "independent"}, "legend": {"color": "independent"}}},
{"width": 1, "height": 1, "view": {"stroke": null},
 "data": {"values": [{"k": "CLL mAb binding"}, {"k": "CLL mAb binding in the presence of MDA-BSA or BSA as inhibitors"}]},
 "mark": {"type": "point", "opacity": 0},
 "encoding": {"color": {"field": "k", "type": "nominal", "title": null,
   "scale": {"domain": ["CLL mAb binding", "CLL mAb binding in the presence of MDA-BSA or BSA as inhibitors"], "range": ["#e8231f", "#3fae3a"]},
   "legend": {"orient": "right", "offset": 140, "padding": 1, "symbolType": "stroke", "symbolSize": 36, "symbolStrokeWidth": 3, "symbolOpacity": 1, "labelFont": "Liberation Serif", "labelFontSize": 11, "labelFontWeight": "bold", "labelOffset": 5, "rowPadding": 6.5, "labelLimit": 600}}}}
],
"config": {
 "font": "Liberation Sans",
 "view": {"stroke": "#1a1a1a", "strokeWidth": 1.3},
 "title": {"anchor": "end", "frame": "group", "dx": -15, "dy": 6, "offset": 1, "baseline": "alphabetic", "font": "Liberation Serif", "fontSize": 20, "fontWeight": "bold", "color": "#111"},
 "axis": {"ticks": false, "domain": false, "grid": false, "labelColor": "#777", "labelFontSize": 7, "labelFlush": false, "labelOverlap": false, "labelPadding": 3},
 "axisX": {"labelFontSize": 7.5},
 "legend": {"orient": "top-right", "offset": 9, "padding": 0, "symbolType": "stroke", "symbolSize": 86, "symbolStrokeWidth": 2.5, "labelFont": "Liberation Serif", "labelFontSize": 13, "labelFontWeight": "bold", "labelColor": "#111", "labelOffset": 6, "rowPadding": 1}
}
}
